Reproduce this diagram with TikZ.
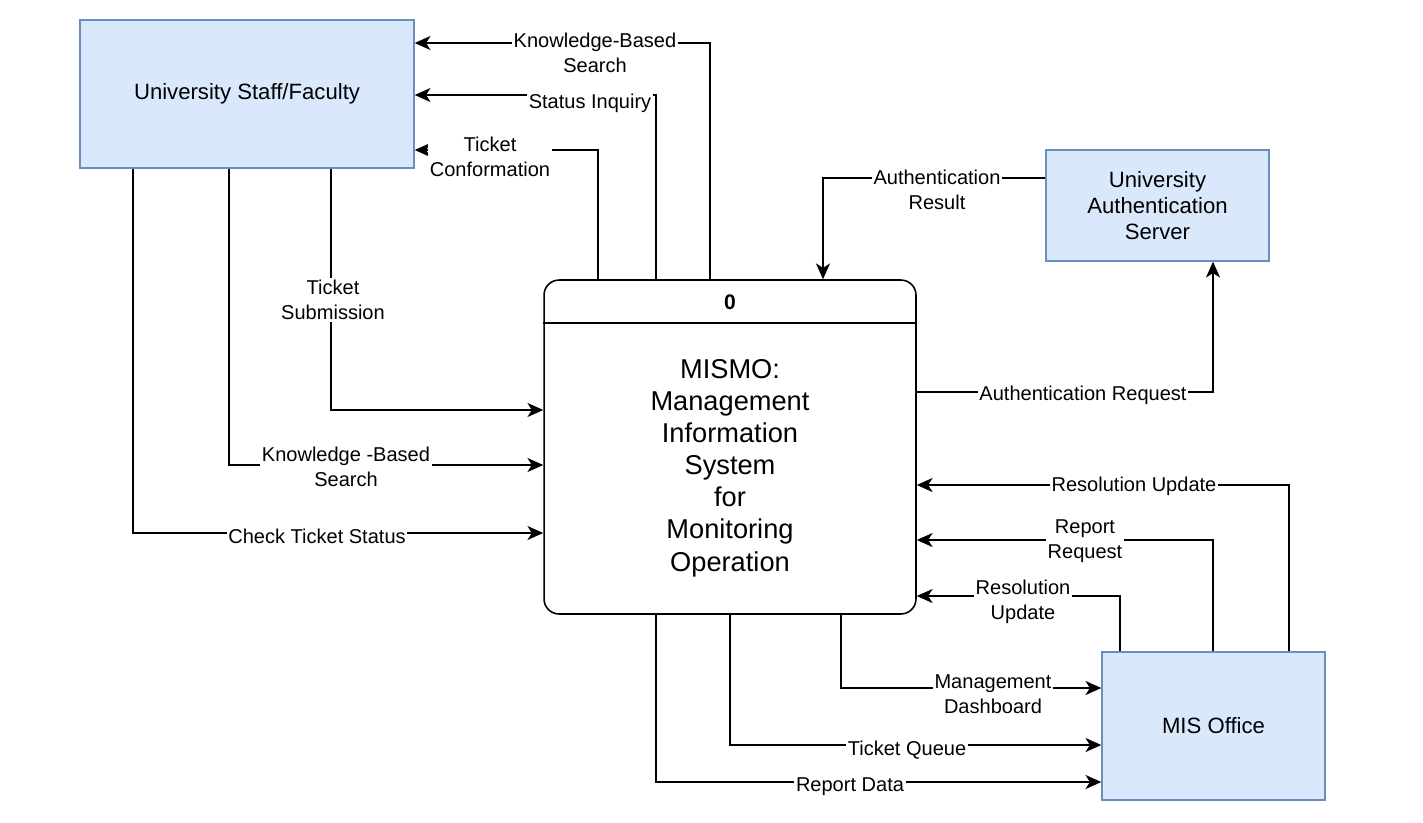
\documentclass[tikz,border=0pt]{standalone}
\usepackage{fontspec}
\setmainfont{Liberation Sans}
\usetikzlibrary{arrows.meta}
\definecolor{entfill}{HTML}{DAE8FC}
\definecolor{entdraw}{HTML}{6C8EBF}
\begin{document}
\begin{tikzpicture}[x=0.02cm,y=-0.02cm,
  entity/.style={draw=entdraw,fill=entfill,line width=0.8pt,align=center,
    font=\fontsize{12.6}{14.7}\selectfont,inner sep=0pt},
  procbox/.style={draw,line width=0.9pt,rounded corners=0.3cm,inner sep=0pt},
  flow/.style={draw,line width=0.9pt,-{Stealth[length=9pt,width=8pt,inset=2.5pt]}},
  flowlabel/.style={fill=white,inner sep=1pt,align=center,
    font=\fontsize{11.4}{14.2}\selectfont}]
\useasboundingbox (0,0) rectangle (1423,822);
% entities
\node[entity,minimum width=6.68cm,minimum height=2.96cm] (staff) at (247,94) {University Staff/Faculty};
\node[entity,minimum width=4.46cm,minimum height=2.22cm] (auth) at (1157.5,205.5) {University\\Authentication\\Server};
\node[entity,minimum width=4.46cm,minimum height=2.96cm] (mis) at (1213.5,726) {MIS Office};
% process
\node[procbox,minimum width=7.44cm,minimum height=6.68cm] (proc) at (730,447) {};
\draw[line width=0.9pt] (proc.west |- 0,323) -- (proc.east |- 0,323);
\node[font=\bfseries\fontsize{12}{14}\selectfont] (pid) at (730,302) {0};
\node[align=center,font=\fontsize{15.5}{18.3}\selectfont] (ptext) at (730,468) {MISMO:\\Management\\Information\\System\\for\\Monitoring\\Operation};
% top flows to staff
\draw[flow] (proc.north -| 710,0) -- (710,43) -- (staff.east |- 0,43);
\draw[flow] (proc.north -| 656,0) -- (656,95) -- (staff.east |- 0,95);
\draw[flow] (proc.north -| 598,0) -- (598,150) -- (staff.east |- 0,150);
\node[flowlabel] (l1) at (595,53) {Knowledge-Based\\Search};
\node[flowlabel] (l2) at (590,103) {Status Inquiry};
\node[flowlabel] (l3) at (490,157) {Ticket\\Conformation};
% left flows from staff
\draw[flow] (staff.south -| 331,0) -- (331,410) -- (proc.west |- 0,410);
\draw[flow] (staff.south -| 229,0) -- (229,465) -- (proc.west |- 0,465);
\draw[flow] (staff.south -| 133,0) -- (133,533) -- (proc.west |- 0,533);
\node[flowlabel] (l4) at (333,300) {Ticket\\Submission};
\node[flowlabel] (l5) at (346,467) {Knowledge -Based\\Search};
\node[flowlabel] (l6) at (317,536) {Check Ticket Status};
% authentication
\draw[flow] (auth.west |- 0,178) -- (823,178) -- (proc.north -| 823,0);
\draw[flow] (proc.east |- 0,392) -- (1213,392) -- (auth.south -| 1213,0);
\node[flowlabel] (l7) at (937,190) {Authentication\\Result};
\node[flowlabel] (l8) at (1083,395) {Authentication Request};
% MIS to process
\draw[flow] (mis.north -| 1289,0) -- (1289,485) -- (proc.east |- 0,485);
\draw[flow] (mis.north -| 1213,0) -- (1213,540) -- (proc.east |- 0,540);
\draw[flow] (mis.north -| 1120,0) -- (1120,596) -- (proc.east |- 0,596);
\node[flowlabel] (l9) at (1134,486) {Resolution Update};
\node[flowlabel] (l10) at (1085,541) {Report\\Request};
\node[flowlabel] (l11) at (1023,602) {Resolution\\Update};
% process to MIS
\draw[flow] (proc.south -| 841,0) -- (841,688) -- (mis.west |- 0,688);
\draw[flow] (proc.south -| 730,0) -- (730,745) -- (mis.west |- 0,745);
\draw[flow] (proc.south -| 656,0) -- (656,782) -- (mis.west |- 0,782);
\node[flowlabel] (l12) at (993,694) {Management\\Dashboard};
\node[flowlabel] (l13) at (907,750) {Ticket Queue};
\node[flowlabel] (l14) at (850,787) {Report Data};
\end{tikzpicture}
\end{document}
